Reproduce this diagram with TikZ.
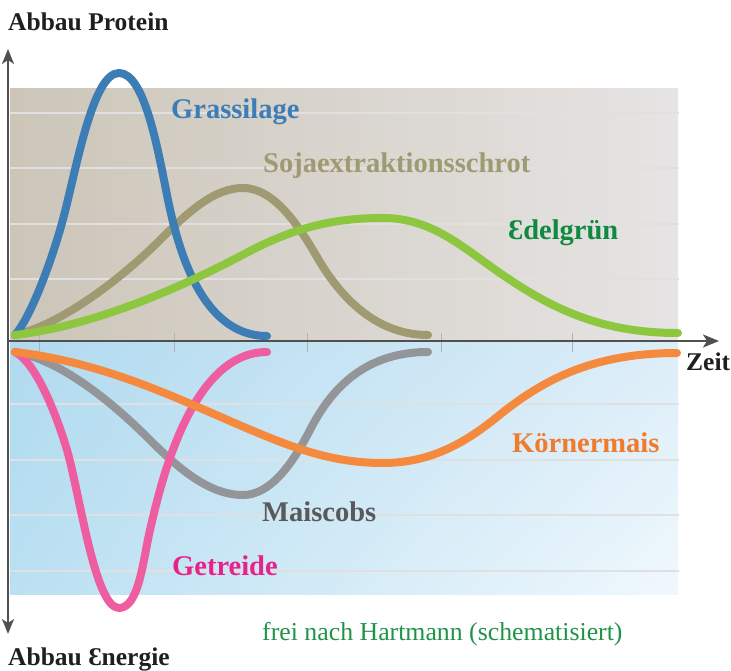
\documentclass[tikz,border=0pt]{standalone}
\usepackage{fontspec}
\setmainfont{Liberation Serif}
\usepackage{xcolor}
\usetikzlibrary{arrows.meta, positioning, shadings}
\definecolor{grasblau}{HTML}{3C7DB5}
\definecolor{sojabraun}{HTML}{A09A72}
\definecolor{edelhell}{HTML}{8DC63F}
\definecolor{edeldunkel}{HTML}{0F8A40}
\definecolor{getreidepink}{HTML}{EF5DA1}
\definecolor{getreidetext}{HTML}{E5238A}
\definecolor{maisgrau}{HTML}{939598}
\definecolor{maistext}{HTML}{58595B}
\definecolor{koernorange}{HTML}{F58A3F}
\definecolor{koerntext}{HTML}{F07B2B}
\definecolor{quellgruen}{HTML}{1F9447}
\definecolor{achsgrau}{HTML}{505050}
\definecolor{proteinlinks}{HTML}{CCC5B8}
\definecolor{proteinrechts}{HTML}{E6E4E4}
\definecolor{energieol}{HTML}{B0DAEF}
\definecolor{energieul}{HTML}{BAE0F2}
\definecolor{energieor}{HTML}{DCEDF8}
\definecolor{energieur}{HTML}{F0F8FD}
\tikzset{
    kurve/.style={
        line width=8pt,
        line cap=round,
        line join=round,
    },
    kurventext/.style={
        anchor=base west,
        inner sep=0pt,
        font=\fontsize{28.5}{30}\selectfont\bfseries,
    },
    achsentext/.style={
        anchor=base west,
        inner sep=0pt,
        text=black!88,
        font=\fontsize{25.5}{28}\selectfont\bfseries,
    },
    rasterlinie/.style={
        draw=black!12,
        line width=1.5pt,
    },
    zeitmarke/.style={
        draw=black!30,
        line width=1pt,
    },
    achse/.style={
        draw=achsgrau,
        line width=2pt,
    },
}

\begin{document}
\begin{tikzpicture}[x=1pt, y=-1pt]
      \useasboundingbox (0,0) rectangle (731,671);

      % Hintergrund
      \shade[left color=proteinlinks, right color=proteinrechts]
            (10,89) rectangle (678,341);
      \shade[upper left=energieol, lower left=energieul,
             upper right=energieor, lower right=energieur]
            (10,341) rectangle (678,594);

      \foreach \y in {113,168,224,279,404,460,515,571}
          \draw[rasterlinie] (10,\y) -- (679,\y);
      \foreach \x in {39,174,307,441,572}
          \draw[zeitmarke] (\x,333) -- (\x,352);

      \coordinate (ursprung) at (8,341);
      \coordinate (zeitende) at (719,341);
      \coordinate (proteinende) at (8,49);
      \coordinate (energieende) at (8,634);

      \draw[achse, -{Stealth[length=16pt, width=13pt, inset=4pt]}] (ursprung) -- (zeitende);
      \draw[achse, {Stealth[length=15pt, width=12pt, inset=4pt]}-{Stealth[length=15pt, width=12pt, inset=4pt]}]
            (energieende) -- (proteinende);

      % Abbau Protein
      \coordinate (p0) at (15,335);
      \coordinate (grasmax) at (119,73);
      \coordinate (sojamax) at (243,188);
      \coordinate (edelmax) at (383,218);

      \draw[kurve, sojabraun] (p0) .. controls (60,325) and (120,280) .. (160,240)
            .. controls (190,210) and (215,188) .. (sojamax)
            .. controls (275,188) and (300,228) .. (317,257)
            .. controls (335,288) and (370,335) .. (428,335);
      \draw[kurve, grasblau] (p0) .. controls (30,318) and (50,266) .. (62,223)
            .. controls (76,172) and (92,73) .. (grasmax)
            .. controls (144,73) and (157,145) .. (167,195)
            .. controls (177,245) and (200,336) .. (267,336);
      \draw[kurve, edelhell] (p0) .. controls (100,325) and (190,283) .. (250,251)
            .. controls (300,225) and (340,218) .. (edelmax)
            .. controls (430,218) and (460,245) .. (497,271)
            .. controls (550,308) and (600,333) .. (678,333);

      % Abbau Energie
      \coordinate (e0) at (15,352);
      \coordinate (getreidemin) at (119,608);
      \coordinate (maismin) at (243,495);
      \coordinate (koernmin) at (383,463);

      \draw[kurve, maisgrau] (e0) .. controls (60,360) and (110,400) .. (150,440)
            .. controls (180,470) and (210,495) .. (maismin)
            .. controls (270,495) and (292,465) .. (310,430)
            .. controls (328,395) and (360,352) .. (428,352);
      \draw[kurve, getreidepink] (e0) .. controls (35,362) and (55,410) .. (67,450)
            .. controls (80,495) and (95,608) .. (getreidemin)
            .. controls (139,608) and (143,560) .. (150,530)
            .. controls (160,487) and (190,352) .. (267,352);
      \draw[kurve, koernorange] (e0) .. controls (100,362) and (170,395) .. (230,421)
            .. controls (290,447) and (330,463) .. (koernmin)
            .. controls (430,463) and (465,443) .. (497,417)
            .. controls (540,382) and (590,353) .. (677,353);

      % Beschriftung
      \node[achsentext] (protein) at (8,31) {Abbau Protein};
      \node[achsentext] (energie) at (8,665) {Abbau Ɛnergie};
      \node[achsentext] (zeit) at (686,370) {Zeit};

      \node[kurventext, text=grasblau] (gras) at (171,119) {Grassilage};
      \node[kurventext, text=sojabraun] (soja) at (263,173) {Sojaextraktionsschrot};
      \node[kurventext, text=edeldunkel] (edel) at (508,240) {Ɛdelgrün};
      \node[kurventext, text=koerntext] (koern) at (512,452) {Körnermais};
      \node[kurventext, text=maistext] (mais) at (262,521) {Maiscobs};
      \node[kurventext, text=getreidetext] (getreide) at (172,575) {Getreide};

      \node[anchor=base west, inner sep=0pt, text=quellgruen, font=\fontsize{25.8}{28}\selectfont]
            (quelle) at (262,640) {frei nach Hartmann (schematisiert)};
    \end{tikzpicture}
\end{document}
